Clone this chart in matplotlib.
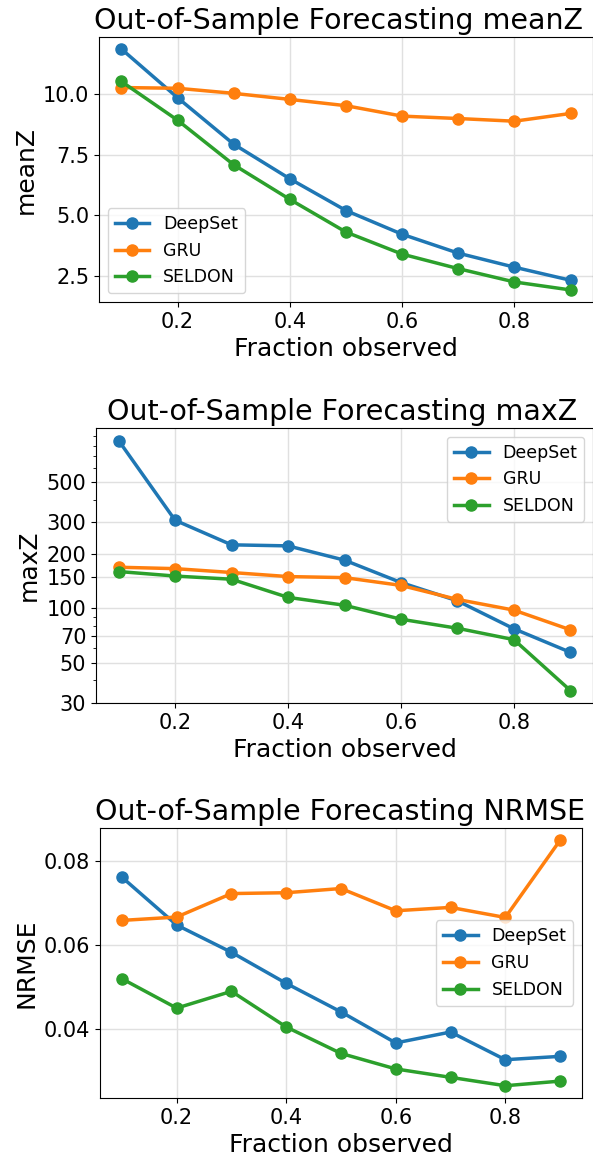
import matplotlib
matplotlib.use("Agg")
import matplotlib.pyplot as plt
from matplotlib.ticker import FixedLocator, ScalarFormatter, NullFormatter

frac = [0.1, 0.2, 0.3, 0.4, 0.5, 0.6, 0.7, 0.8, 0.9]
models = ["DeepSet", "GRU", "SELDON"]

meanz_deepset = [11.87, 9.86, 7.94, 6.51, 5.20, 4.22, 3.44, 2.86, 2.32]
meanz_gru = [10.28, 10.25, 10.04, 9.79, 9.53, 9.10, 9.00, 8.89, 9.21]
meanz_seldon = [10.53, 8.93, 7.09, 5.66, 4.31, 3.40, 2.80, 2.25, 1.92]

maxz_deepset = [853, 308, 225, 222, 185, 139, 110, 77, 57]
maxz_gru = [169, 166, 158, 150, 148, 134, 112, 97.7, 76]
maxz_seldon = [160, 151, 145, 115, 104, 87, 77.5, 67, 35]

nrmse_deepset = [0.0762, 0.0648, 0.0583, 0.0509, 0.0441, 0.0367, 0.0393, 0.0327, 0.0335]
nrmse_gru = [0.0659, 0.0667, 0.0723, 0.0725, 0.0735, 0.0682, 0.0690, 0.0666, 0.0850]
nrmse_seldon = [0.0520, 0.0450, 0.0490, 0.0405, 0.0342, 0.0305, 0.0285, 0.0265, 0.0276]

meanz_ticks = [2.5, 5.0, 7.5, 10.0]
maxz_ticks = [30, 50, 70, 100, 150, 200, 300, 500]

W, H = 593, 1163
fig = plt.figure(figsize=(W / 100, H / 100), dpi=100)

def box(l, t, r, b):
    # pixel box (from top-left) -> figure fraction rect
    return [l / W, 1 - b / H, (r - l) / W, (b - t) / H]

panels = [
    (box(99, 37, 593, 302), "meanZ", [meanz_deepset, meanz_gru, meanz_seldon], "lower left", 339),
    (box(96, 428, 593, 703), "maxZ", [maxz_deepset, maxz_gru, maxz_seldon], "upper right", 342),
    (box(100, 828, 582, 1098), "NRMSE", [nrmse_deepset, nrmse_gru, nrmse_seldon], "center right", 340),
]

for pos, name, series, loc, title_cx in panels:
    ax = fig.add_axes(pos)
    for m, ys in zip(models, series):
        ax.plot(frac, ys, "-o", lw=2.5, ms=8, label=m)
    if name == "meanZ":
        ax.set_yticks(meanz_ticks)
    if name == "maxZ":
        ax.set_yscale("log")
        ax.yaxis.set_major_locator(FixedLocator(maxz_ticks))
        ax.yaxis.set_major_formatter(ScalarFormatter())
        ax.yaxis.set_minor_formatter(NullFormatter())
    ax.set_xticks([0.2, 0.4, 0.6, 0.8])
    ax.grid(True, color="#e0e0e0", lw=1)
    ax.set_axisbelow(True)
    tx = (title_cx / W - pos[0]) / pos[2]
    ax.set_title("Out-of-Sample Forecasting " + name, fontsize=20.5, x=tx)
    ax.set_xlabel("Fraction observed", fontsize=18)
    ax.set_ylabel(name, fontsize=18)
    ax.tick_params(labelsize=15)
    ax.legend(loc=loc, fontsize=12.5)

fig.savefig("out.png", dpi=100)
